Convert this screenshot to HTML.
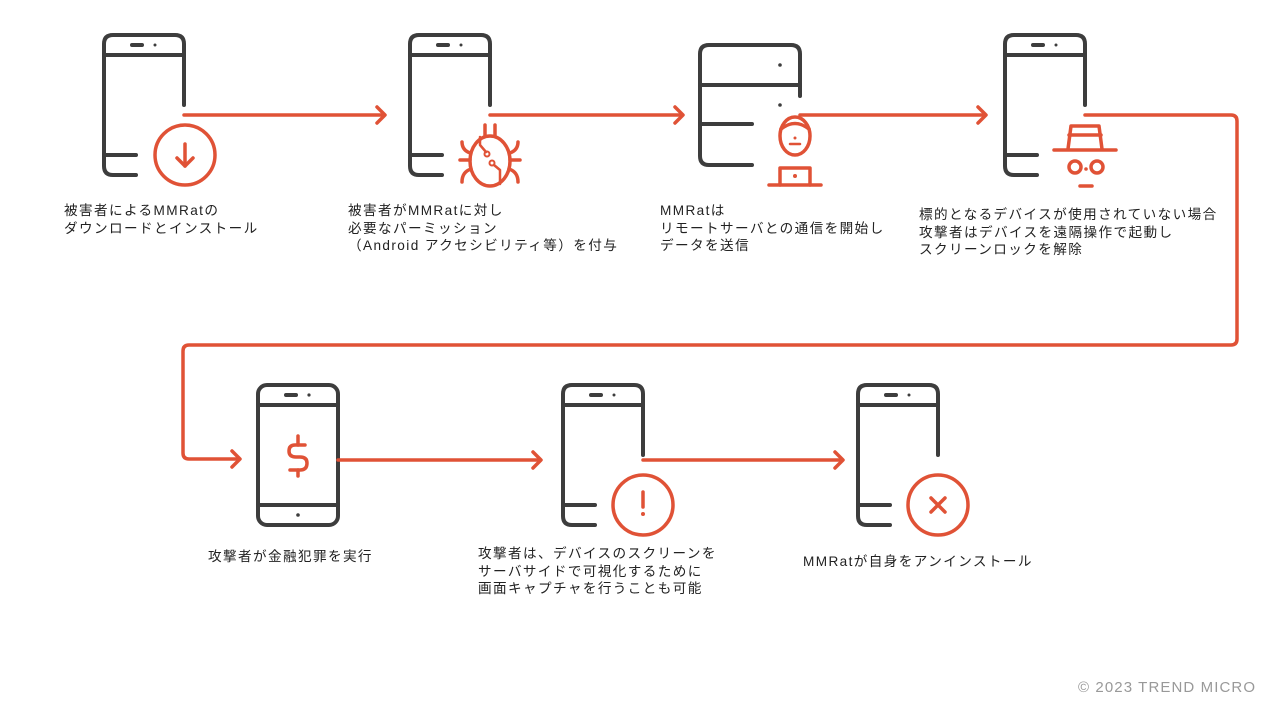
<!DOCTYPE html>
<html><head><meta charset="utf-8"><style>
html,body{margin:0;padding:0;background:#fff;}
body{width:1287px;height:726px;position:relative;overflow:hidden;}
.t{position:absolute;font-family:"Liberation Sans","Noto Sans CJK JP",sans-serif;font-size:13.6px;letter-spacing:1.4px;line-height:17.5px;color:#222;white-space:nowrap;}
svg{position:absolute;left:0;top:0;}
</style></head><body>
<svg width="1287" height="726" viewBox="0 0 1287 726">
<defs>
<g id="phoneOpen" fill="none" stroke="#3d3d3d" stroke-width="4" stroke-linecap="round">
<path d="M32 140 H9 Q0 140 0 131 V9 Q0 0 9 0 H71 Q80 0 80 9 V70"/>
<line x1="0" y1="20" x2="80" y2="20"/>
<line x1="0" y1="120" x2="32" y2="120"/>
<line x1="28" y1="10" x2="38" y2="10"/>
<circle cx="51" cy="10" r="1.5" fill="#3d3d3d" stroke="none"/>
</g>
</defs>
<use href="#phoneOpen" x="104" y="35"/>
<use href="#phoneOpen" x="410" y="35"/>
<use href="#phoneOpen" x="1005" y="35"/>
<use href="#phoneOpen" x="563" y="385"/>
<use href="#phoneOpen" x="858" y="385"/>
<g fill="none" stroke="#3d3d3d" stroke-width="4" stroke-linecap="round">
<rect x="258" y="385" width="80" height="140" rx="9"/>
<line x1="258" y1="405" x2="338" y2="405"/>
<line x1="258" y1="505" x2="338" y2="505"/>
<line x1="286" y1="395" x2="296" y2="395"/>
</g>
<circle cx="309" cy="395" r="1.6" fill="#3d3d3d"/>
<circle cx="298" cy="515" r="1.8" fill="#3d3d3d"/>
<g fill="none" stroke="#3d3d3d" stroke-width="4" stroke-linecap="round">
<path d="M752 165 H709 Q700 165 700 156 V54 Q700 45 709 45 H791 Q800 45 800 54 V96"/>
<line x1="700" y1="85" x2="800" y2="85"/>
<line x1="700" y1="124" x2="752" y2="124"/>
</g>
<circle cx="780" cy="65" r="1.8" fill="#3d3d3d"/>
<circle cx="780" cy="105" r="1.8" fill="#3d3d3d"/>
<g fill="none" stroke="#e05236" stroke-width="3.5" stroke-linecap="round" stroke-linejoin="round">
<line x1="184" y1="115" x2="384" y2="115"/><path d="M377 107 L385 115 L377 123"/>
<line x1="490" y1="115" x2="682" y2="115"/><path d="M675 107 L683 115 L675 123"/>
<line x1="800" y1="115" x2="985" y2="115"/><path d="M978 107 L986 115 L978 123"/>
<path d="M1085 115 H1231 Q1237 115 1237 121 V339 Q1237 345 1231 345 H189 Q183 345 183 351 V453 Q183 459 189 459 H239"/><path d="M232 451 L240 459 L232 467"/>
<line x1="338" y1="460" x2="540" y2="460"/><path d="M533 452 L541 460 L533 468"/>
<line x1="643" y1="460" x2="842" y2="460"/><path d="M835 452 L843 460 L835 468"/>
<circle cx="185" cy="155" r="30"/>
<line x1="185" y1="144" x2="185" y2="166"/><path d="M177 158 L185 166 L193 158"/>
<ellipse cx="490" cy="161" rx="20" ry="25"/>
<line x1="485" y1="125" x2="485" y2="136"/><line x1="495" y1="125" x2="495" y2="136"/>
<path d="M470 153 Q462 150 462 142"/><path d="M510 153 Q518 150 518 142"/>
<line x1="460" y1="160" x2="470" y2="160"/><line x1="510" y1="160" x2="520" y2="160"/>
<path d="M471 169 Q462 172 462 182"/><path d="M509 169 Q518 172 518 182"/>
<path d="M480 137 V145 L486 152" stroke-width="2.5"/><circle cx="487" cy="154" r="2.5" stroke-width="2"/>
<path d="M494 165 L500 170 V184" stroke-width="2.5"/><circle cx="492" cy="163" r="2.5" stroke-width="2"/>
<ellipse cx="795" cy="136" rx="15" ry="19"/>
<path d="M781 129 Q795 118 809 129"/>
<line x1="790" y1="144" x2="800" y2="144" stroke-width="2.5"/>
<path d="M780 185 V168 H810 V185"/>
<line x1="769" y1="185" x2="821" y2="185"/>
<path d="M1068 149 L1071 126 H1099 L1102 149"/>
<line x1="1069" y1="135" x2="1101" y2="135"/>
<line x1="1054" y1="150" x2="1116" y2="150"/>
<circle cx="1075" cy="167" r="6"/><circle cx="1097" cy="167" r="6"/>
<line x1="1080" y1="186" x2="1092" y2="186"/>
<path d="M305 445 H295 Q289 445 289 451 Q289 457 296 457 H300 Q307 457 307 463 Q307 470 300 470 H290"/>
<line x1="298" y1="436" x2="298" y2="445"/><line x1="298" y1="470" x2="298" y2="476"/>
<circle cx="643" cy="505" r="30"/>
<line x1="643" y1="492" x2="643" y2="507"/>
<circle cx="938" cy="505" r="30"/>
<line x1="931" y1="498" x2="945" y2="512"/><line x1="945" y1="498" x2="931" y2="512"/>
</g>
<circle cx="795" cy="138" r="1.5" fill="#e05236"/>
<circle cx="795" cy="176" r="2" fill="#e05236"/>
<circle cx="1086" cy="169" r="1.8" fill="#e05236"/>
<circle cx="643" cy="514" r="2" fill="#e05236"/>
</svg>
<div class="t" style="left:64px;top:202px">被害者によるMMRatの<br>ダウンロードとインストール</div>
<div class="t" style="left:348px;top:202px">被害者がMMRatに対し<br>必要なパーミッション<br>（Android アクセシビリティ等）を付与</div>
<div class="t" style="left:660px;top:202px">MMRatは<br>リモートサーバとの通信を開始し<br>データを送信</div>
<div class="t" style="left:919px;top:206px">標的となるデバイスが使用されていない場合<br>攻撃者はデバイスを遠隔操作で起動し<br>スクリーンロックを解除</div>
<div class="t" style="left:208px;top:548px">攻撃者が金融犯罪を実行</div>
<div class="t" style="left:478px;top:545px">攻撃者は、デバイスのスクリーンを<br>サーバサイドで可視化するために<br>画面キャプチャを行うことも可能</div>
<div class="t" style="left:803px;top:553px">MMRatが自身をアンインストール</div>
<div class="t" style="left:1078px;top:679px;font-size:15px;letter-spacing:1.1px;color:#999">© 2023 TREND MICRO</div>
</body></html>
